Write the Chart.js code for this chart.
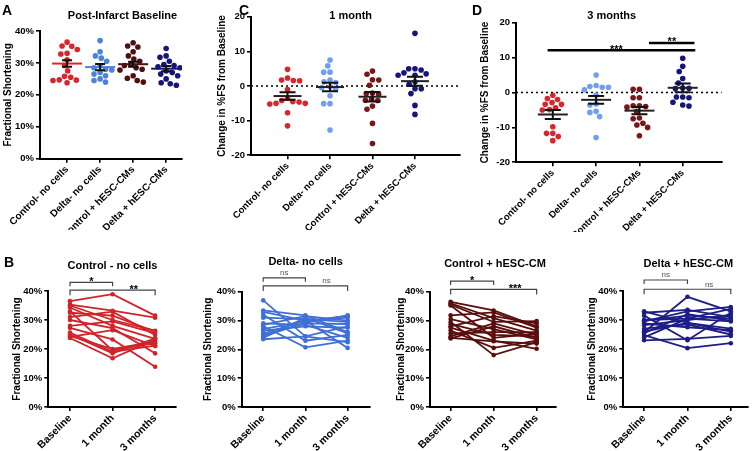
<!DOCTYPE html>
<html><head><meta charset="utf-8">
<script src="https://cdn.jsdelivr.net/npm/chart.js@4/dist/chart.umd.min.js"></script>
<style>
html,body{margin:0;padding:0;background:#fff;}
body{width:754px;height:451px;position:relative;overflow:hidden;font-family:"Liberation Sans",Arial,sans-serif;}
canvas.c{position:absolute;}
.t{position:absolute;transform:translate(-50%,-50%);font-weight:bold;font-size:11px;white-space:nowrap;color:#000;line-height:13px;}
.L{position:absolute;font-weight:bold;font-size:14px;line-height:16px;color:#000;}
</style></head><body>
<script>
// ---------- DATA ----------
const groups = ['Control- no cells', 'Delta- no cells', 'Control + hESC-CMs', 'Delta + hESC-CMs'];
const timepoints = ['Baseline', '1 month', '3 months'];
const pctTicks = [0, 10, 20, 30, 40];
const changeTicks = [-20, -10, 0, 10, 20];

// A: post-infarct baseline FS (%)
const baseCtrlNo  = [36.5, 35.3, 35.2, 34.2, 33.0, 32.8, 31.0, 29.2, 27.5, 25.8, 25.5, 24.7, 24.6, 24.5, 23.8];
const baseDeltaNo = [37.0, 33.5, 32.2, 31.5, 30.5, 29.0, 28.5, 28.0, 27.8, 27.0, 26.5, 26.0, 25.0, 24.5, 24.0];
const baseCtrlCM  = [36.3, 35.3, 35.0, 33.5, 32.2, 31.2, 30.5, 29.5, 29.2, 28.5, 28.0, 27.8, 26.0, 25.2, 24.5, 24.0];
const baseDeltaCM = [34.5, 32.2, 31.8, 30.5, 29.5, 29.2, 28.8, 28.5, 27.5, 27.0, 26.5, 26.0, 25.0, 23.8, 23.5, 23.0];
const baseMean = [29.8, 28.7, 29.6, 28.2];
const baseSem  = [1.0, 1.0, 0.8, 0.8];

// C: change in %FS at 1 month
const m1CtrlNo  = [4.8, 2.3, 1.7, 1.6, 1.5, -1.0, -3.5, -4.2, -4.5, -5.0, -5.0, -4.6, -5.2, -7.7, -11.5];
const m1DeltaNo = [7.5, 5.8, 4.0, 4.0, 1.7, 1.2, 1.0, -0.2, -0.5, -1.0, -2.8, -5.1, -5.1, -12.7];
const m1CtrlCM  = [4.3, 3.4, 1.8, 1.7, 0.2, -2.0, -2.2, -2.4, -3.8, -4.2, -4.1, -5.8, -6.7, -10.8, -16.6];
const m1DeltaCM = [15.2, 5.0, 5.0, 4.6, 3.8, 3.1, 3.1, 3.5, 1.2, 0.5, -0.8, -0.8, -2.2, -5.6, -8.2];
const m1Mean = [-2.9, -0.3, -3.1, 1.4];
const m1Sem  = [1.1, 1.25, 1.35, 1.3];

// D: change in %FS at 3 months
const m3CtrlNo  = [-0.8, -1.7, -2.0, -2.9, -3.4, -3.4, -4.4, -4.9, -5.0, -9.8, -11.7, -11.7, -12.6, -13.8];
const m3DeltaNo = [5.0, 1.7, 1.5, 1.5, 2.0, 0.8, -0.7, -3.6, -3.3, -5.4, -5.7, -6.9, -12.9];
const m3CtrlCM  = [0.9, 0.9, -1.5, -1.5, -3.8, -3.8, -4.0, -4.2, -5.4, -7.3, -7.5, -8.8, -9.3, -10.0, -12.4];
const m3DeltaCM = [9.8, 7.5, 6.0, 4.0, 2.7, 1.1, 1.3, 1.2, -1.3, -1.3, -1.5, -3.9, -2.8, -3.6];
const m3Mean = [-6.3, -2.1, -5.2, 1.35];
const m3Sem  = [1.3, 1.1, 1.05, 1.25];
const m3Sig = [
  { from: -0.12, to: 3.29, y: 12.1, label: '***', at: 1.47 },
  { from: 2.22, to: 3.27, y: 14.2, label: '**', at: 2.75 }
];

// B: individual animals, FS (%) at Baseline / 1 month / 3 months
const bCtrlNoBase = [36.5, 35.3, 35.0, 34.3, 33.0, 32.5, 31.0, 30.0, 28.0, 27.3, 25.7, 25.0, 24.5, 23.8, 24.2];
const bCtrlNoM1   = [38.9, 33.2, 30.0, 28.0, 19.5, 31.5, 32.9, 27.2, 29.5, 23.3, 19.0, 18.5, 20.0, 16.8, 26.5];
const bCtrlNoM3   = [31.5, 30.8, 26.3, 23.5, 22.0, 26.0, 24.8, 18.5, 25.5, 13.9, 21.2, 23.7, 22.5, 23.3, 21.0];
const bCtrlNoSig  = [{ from: 0, to: 1, y: 43.0, label: '*', at: 0.5 }, { from: 0, to: 2, y: 40.3, label: '**', at: 1.5 }];

const bDeltaNoBase = [37.0, 33.5, 33.0, 32.0, 31.0, 29.0, 28.5, 28.0, 27.0, 26.5, 25.5, 25.0, 24.0, 23.5, 24.5];
const bDeltaNoM1   = [24.5, 31.8, 30.0, 23.0, 30.5, 28.5, 31.5, 20.7, 29.8, 28.0, 30.0, 29.0, 31.0, 24.5, 29.3];
const bDeltaNoM3   = [28.0, 26.0, 31.5, 25.0, 29.5, 24.0, 30.0, 23.0, 31.0, 27.5, 20.5, 28.8, 25.5, 22.5, 31.8];
const bDeltaNoSig  = [{ from: 0, to: 1, y: 44.8, label: 'ns', at: 0.5 }, { from: 0, to: 2, y: 42.0, label: 'ns', at: 1.5 }];

const bCtrlCMBase = [36.5, 36.0, 35.2, 35.5, 31.8, 30.5, 29.5, 28.8, 28.0, 27.5, 26.5, 25.5, 24.5, 24.0, 23.8];
const bCtrlCMM1   = [33.5, 30.8, 24.0, 29.5, 32.8, 27.0, 18.0, 25.0, 31.5, 23.0, 20.5, 26.0, 29.0, 22.8, 28.0];
const bCtrlCMM3   = [28.0, 26.5, 25.5, 29.8, 27.5, 23.5, 22.5, 24.5, 29.0, 20.2, 23.0, 26.0, 25.0, 22.0, 24.0];
const bCtrlCMSig  = [{ from: 0, to: 1, y: 43.7, label: '*', at: 0.5 }, { from: 0, to: 2, y: 40.8, label: '***', at: 1.5 }];

const bDeltaCMBase = [33.0, 32.5, 31.5, 30.0, 29.5, 28.8, 28.2, 27.0, 25.8, 25.5, 24.8, 24.0, 23.0, 26.0, 29.8];
const bDeltaCMM1   = [29.0, 33.5, 23.0, 30.5, 33.0, 27.5, 30.0, 28.5, 38.0, 32.0, 20.3, 30.5, 23.5, 29.0, 31.5];
const bDeltaCMM3   = [27.0, 31.0, 32.5, 29.5, 34.5, 26.5, 31.8, 25.0, 33.0, 29.8, 22.0, 33.8, 24.5, 26.0, 30.5];
const bDeltaCMSig  = [{ from: 0, to: 1, y: 43.8, label: 'ns', at: 0.5 }, { from: 0, to: 2, y: 40.6, label: 'ns', at: 1.5 }];

// ---------- STYLE ----------
const FONT = '"Liberation Sans", Arial, Helvetica, sans-serif';
const COL = { red: '#d8262c', blue: '#4c82dc', ltBlue: '#6f9ef2', dkRed: '#4f1010', dkRed2: '#7a1616', navy: '#15157a' };
const BCOL = { red: '#d0232a', blue: '#3f6fd6', dkRed: '#5a0d0d', navy: '#1d1d86' };

function f(size, weight) { return { family: FONT, size: size, weight: weight || 'bold' }; }

function place(L, T, W, H) {
  const c = document.createElement('canvas');
  c.className = 'c'; c.width = W; c.height = H;
  c.style.left = L + 'px'; c.style.top = T + 'px';
  c.style.width = W + 'px'; c.style.height = H + 'px';
  document.body.appendChild(c);
  return c;
}

function yScale(ticks, fmt, wy, title, titleSize) {
  return {
    type: 'linear', min: ticks[0], max: ticks[ticks.length - 1],
    afterBuildTicks: ax => { ax.ticks = ticks.map(v => ({ value: v })); },
    afterFit: ax => { ax.width = wy; ax.paddingTop = 0; ax.paddingBottom = 0; },
    border: { display: true, color: '#000', width: 2 },
    grid: { drawOnChartArea: false, drawTicks: true, tickLength: 4, color: '#000', lineWidth: 1.6 },
    ticks: { color: '#000', font: f(9.5), padding: 2, callback: fmt },
    title: { display: true, text: title, color: '#000', font: f(titleSize), padding: 0 }
  };
}

function xScale(min, max, labels, hx, size) {
  return {
    type: 'linear', min: min, max: max,
    afterBuildTicks: ax => { ax.ticks = labels.map((_, i) => ({ value: i })); },
    afterFit: ax => { ax.height = hx; ax.paddingLeft = 0; ax.paddingRight = 0; },
    border: { display: true, color: '#000', width: 2 },
    grid: { drawOnChartArea: false, drawTicks: true, tickLength: 4, color: '#000', lineWidth: 1.6 },
    ticks: { color: '#000', font: f(size), minRotation: 45, maxRotation: 45, autoSkip: false, padding: 1,
             callback: v => labels[v] }
  };
}

function drawSigText(ctx, label, x, y) {
  ctx.save();
  ctx.textAlign = 'center';
  ctx.textBaseline = 'alphabetic';
  if (label.indexOf('*') >= 0) {
    ctx.fillStyle = '#000'; ctx.font = 'bold 11px ' + FONT;
    ctx.fillText(label, x, y + 2.5);
  } else {
    ctx.fillStyle = '#555'; ctx.font = '8px ' + FONT;
    ctx.fillText(label, x, y - 2.5);
  }
  ctx.restore();
}

function swarmOverlay(p) {
  return {
    id: 'swarmOverlay',
    beforeDatasetsDraw(chart) {
      if (!p.zero) return;
      const { ctx, chartArea, scales: { y } } = chart;
      const yy = y.getPixelForValue(0);
      ctx.save();
      ctx.strokeStyle = '#000'; ctx.lineWidth = 1.6; ctx.setLineDash([2, 3]);
      ctx.beginPath(); ctx.moveTo(chartArea.left, yy); ctx.lineTo(chartArea.right, yy); ctx.stroke();
      ctx.restore();
    },
    afterDatasetsDraw(chart) {
      const { ctx, scales: { x, y } } = chart;
      ctx.save();
      p.means.forEach((m, i) => {
        const s = p.sems[i];
        const cx = x.getPixelForValue(i);
        const ym = y.getPixelForValue(m), yt = y.getPixelForValue(m + s), yb = y.getPixelForValue(m - s);
        ctx.lineWidth = 2;
        ctx.strokeStyle = p.meanColors ? p.meanColors[i] : '#222';
        ctx.beginPath(); ctx.moveTo(cx - p.meanHalf, ym); ctx.lineTo(cx + p.meanHalf, ym); ctx.stroke();
        ctx.strokeStyle = '#111';
        ctx.beginPath();
        ctx.moveTo(cx, yt); ctx.lineTo(cx, yb);
        ctx.moveTo(cx - p.capHalf, yt); ctx.lineTo(cx + p.capHalf, yt);
        ctx.moveTo(cx - p.capHalf, yb); ctx.lineTo(cx + p.capHalf, yb);
        ctx.stroke();
      });
      (p.sig || []).forEach(b => {
        const yy = y.getPixelForValue(b.y);
        ctx.strokeStyle = '#000'; ctx.lineWidth = 2.5;
        ctx.beginPath(); ctx.moveTo(x.getPixelForValue(b.from), yy); ctx.lineTo(x.getPixelForValue(b.to), yy); ctx.stroke();
        drawSigText(ctx, b.label, x.getPixelForValue(b.at), yy);
      });
      ctx.restore();
    }
  };
}

function swarm(chart, groupVals, sep) {
  const xs = chart.scales.x, ys = chart.scales.y;
  const unit = xs.getPixelForValue(1) - xs.getPixelForValue(0);
  groupVals.forEach((vals, gi) => {
    const placed = [];
    const offs = new Array(vals.length);
    const order = vals.map((v, i) => i).sort((a, b) => vals[b] - vals[a]);
    order.forEach(i => {
      const py = ys.getPixelForValue(vals[i]);
      const cands = [0];
      placed.forEach(q => {
        const dy = Math.abs(q.y - py);
        if (dy < sep) { const dx = Math.sqrt(sep * sep - dy * dy); cands.push(q.x + dx, q.x - dx); }
      });
      cands.sort((a, b) => Math.abs(a) - Math.abs(b) || a - b);
      const xx = cands.find(c => placed.every(q => (q.x - c) * (q.x - c) + (q.y - py) * (q.y - py) >= sep * sep - 0.05));
      placed.push({ x: xx, y: py });
      offs[i] = xx;
    });
    chart.data.datasets[gi].data = vals.map((v, i) => ({ x: gi + offs[i] / unit, y: v }));
  });
  chart.update('none');
}

function makeSwarm(p) {
  const canvas = place(p.L, p.T, p.W, p.H);
  const datasets = p.groups.map((vals, gi) => ({
    data: vals.map(v => ({ x: gi, y: v })),
    backgroundColor: p.colors[gi], borderWidth: 0, pointRadius: 2.8, pointHoverRadius: 2.8
  }));
  const chart = new Chart(canvas, {
    type: 'scatter',
    data: { datasets: datasets },
    options: {
      responsive: false, animation: false, events: [],
      layout: { padding: { top: p.pt, right: p.pr, left: 0, bottom: 0 } },
      plugins: { legend: { display: false }, tooltip: { enabled: false } },
      scales: {
        x: xScale(p.xmin, p.xmax, groups, p.hx, p.xfont),
        y: yScale(p.ticks, p.fmt, p.wy, p.title, 10)
      }
    },
    plugins: [swarmOverlay(p)]
  });
  swarm(chart, p.groups, 6.3);
}

function bracketPlugin(p) {
  return {
    id: 'brackets',
    afterDraw(chart) {
      const { ctx, scales: { x, y } } = chart;
      ctx.save();
      p.sig.forEach((b, k) => {
        const x1 = x.getPixelForValue(b.from), x2 = x.getPixelForValue(b.to), yy = y.getPixelForValue(b.y);
        const tick = k === 0 ? 4 : 5;
        ctx.strokeStyle = '#444'; ctx.lineWidth = 1.2;
        ctx.beginPath();
        ctx.moveTo(x1, yy + tick); ctx.lineTo(x1, yy); ctx.lineTo(x2, yy); ctx.lineTo(x2, yy + tick);
        ctx.stroke();
        drawSigText(ctx, b.label, x.getPixelForValue(b.at), yy);
      });
      ctx.restore();
    }
  };
}

function makeLines(p) {
  const canvas = place(p.L, p.T, p.W, p.H);
  const datasets = p.base.map((b, i) => ({
    data: [{ x: 0, y: b }, { x: 1, y: p.m1[i] }, { x: 2, y: p.m3[i] }],
    showLine: true, borderColor: p.color, backgroundColor: p.color,
    borderWidth: 1.8, pointRadius: 2.3, pointBorderWidth: 0, tension: 0
  }));
  new Chart(canvas, {
    type: 'scatter',
    data: { datasets: datasets },
    options: {
      responsive: false, animation: false, events: [],
      layout: { padding: { top: p.pt, right: p.pr, left: 0, bottom: 0 } },
      plugins: { legend: { display: false }, tooltip: { enabled: false } },
      scales: {
        x: xScale(p.xmin, p.xmax, timepoints, p.hx, 10.5),
        y: yScale(pctTicks, v => v + '%', p.wy, 'Fractional Shortening', 10)
      }
    },
    plugins: [bracketPlugin(p)]
  });
}

// ---------- PANELS ----------
makeSwarm({ L: 2, T: 20, W: 190, H: 210, wy: 38, pt: 11, pr: 10, hx: 71.3,
  xmin: -0.82, xmax: 3.48, xfont: 10, ticks: pctTicks, fmt: v => v + '%', title: 'Fractional Shortening',
  groups: [baseCtrlNo, baseDeltaNo, baseCtrlCM, baseDeltaCM],
  colors: [COL.red, COL.blue, COL.dkRed, COL.navy], meanColors: [COL.red, COL.blue, COL.dkRed, COL.navy],
  means: baseMean, sems: baseSem, meanHalf: 15, capHalf: 5 });

makeSwarm({ L: 216, T: 8, W: 255, H: 222, wy: 35, pt: 8.7, pr: 11, hx: 74.7,
  xmin: -0.86, xmax: 4.06, xfont: 9.5, ticks: changeTicks, fmt: v => v, title: 'Change in %FS from Baseline',
  groups: [m1CtrlNo, m1DeltaNo, m1CtrlCM, m1DeltaCM],
  colors: [COL.red, COL.ltBlue, COL.dkRed2, COL.navy],
  means: m1Mean, sems: m1Sem, meanHalf: 14, capHalf: 8, zero: true });

makeSwarm({ L: 479, T: 12, W: 254, H: 220, wy: 37, pt: 10.7, pr: 11.3, hx: 69.7,
  xmin: -0.85, xmax: 3.9, xfont: 9.5, ticks: changeTicks, fmt: v => v, title: 'Change in %FS from Baseline',
  groups: [m3CtrlNo, m3DeltaNo, m3CtrlCM, m3DeltaCM],
  colors: [COL.red, COL.ltBlue, COL.dkRed2, COL.navy],
  means: m3Mean, sems: m3Sem, meanHalf: 15, capHalf: 8, zero: true, sig: m3Sig });

makeLines({ L: 11, T: 260, W: 175, H: 191, wy: 37.3, pt: 31, pr: 10, hx: 44, xmin: -0.51, xmax: 2.49,
  base: bCtrlNoBase, m1: bCtrlNoM1, m3: bCtrlNoM3, color: BCOL.red, sig: bCtrlNoSig });
makeLines({ L: 202, T: 260, W: 178, H: 191, wy: 39.7, pt: 31.7, pr: 10, hx: 44, xmin: -0.51, xmax: 2.53,
  base: bDeltaNoBase, m1: bDeltaNoM1, m3: bDeltaNoM3, color: BCOL.blue, sig: bDeltaNoSig });
makeLines({ L: 395, T: 260, W: 171, H: 191, wy: 35, pt: 31.7, pr: 10, hx: 44, xmin: -0.48, xmax: 2.45,
  base: bCtrlCMBase, m1: bCtrlCMM1, m3: bCtrlCMM3, color: BCOL.dkRed, sig: bCtrlCMSig });
makeLines({ L: 586, T: 260, W: 168, H: 191, wy: 37.3, pt: 31, pr: 6.3, hx: 44, xmin: -0.48, xmax: 2.39,
  base: bDeltaCMBase, m1: bDeltaCMM1, m3: bDeltaCMM3, color: BCOL.navy, sig: bDeltaCMSig });

// ---------- TITLES & PANEL LETTERS ----------
const texts = [
  ['t', 'Post-Infarct Baseline', 122.5, 15], ['t', '1 month', 350.7, 15], ['t', '3 months', 611.7, 15],
  ['t', 'Control - no cells', 112.5, 265], ['t', 'Delta- no cells', 305.7, 261],
  ['t', 'Control + hESC-CM', 495, 263.3], ['t', 'Delta + hESC-CM', 688.3, 262.7],
  ['L', 'A', 2, 2], ['L', 'C', 239, 2], ['L', 'D', 472, 2], ['L', 'B', 4, 254]
];
texts.forEach(([cls, txt, x, y]) => {
  const d = document.createElement('div');
  d.className = cls; d.textContent = txt;
  d.style.left = x + 'px'; d.style.top = y + 'px';
  document.body.appendChild(d);
});
</script>
</body></html>
